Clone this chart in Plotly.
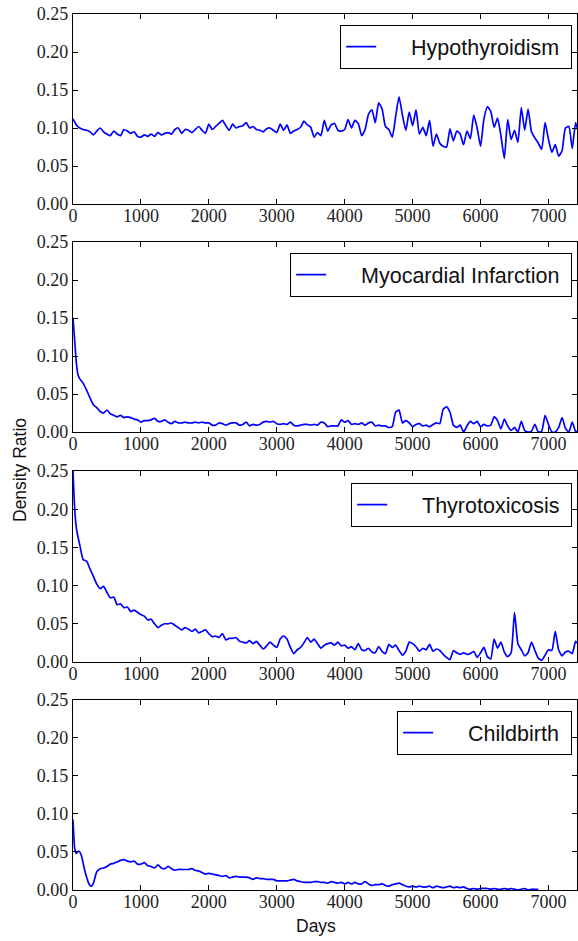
import plotly.graph_objects as go

# ---------------- data ----------------
step_days = list(range(0, 7500, 50))

hypo_days = step_days
hypo_vals = [
    0.112, 0.104, 0.100, 0.098, 0.097, 0.095, 0.091, 0.096, 0.100, 0.095,
    0.092, 0.090, 0.096, 0.092, 0.090, 0.098, 0.096, 0.093, 0.095, 0.089,
    0.088, 0.091, 0.089, 0.092, 0.089, 0.094, 0.091, 0.093, 0.094, 0.092,
    0.098, 0.100, 0.093, 0.098, 0.097, 0.094, 0.098, 0.102, 0.097, 0.093,
    0.105, 0.098, 0.102, 0.106, 0.110, 0.103, 0.097, 0.105, 0.100, 0.102,
    0.103, 0.107, 0.100, 0.102, 0.098, 0.097, 0.095, 0.099, 0.100, 0.097,
    0.094, 0.105, 0.097, 0.104, 0.093, 0.096, 0.098, 0.101, 0.109, 0.104,
    0.101, 0.088, 0.094, 0.090, 0.110, 0.096, 0.104, 0.106, 0.097, 0.096,
    0.098, 0.111, 0.100, 0.110, 0.106, 0.090, 0.098, 0.118, 0.124, 0.107,
    0.133, 0.125, 0.102, 0.098, 0.088, 0.115, 0.141, 0.117, 0.097, 0.121,
    0.103, 0.124, 0.092, 0.101, 0.090, 0.110, 0.076, 0.092, 0.080, 0.076,
    0.075, 0.099, 0.083, 0.096, 0.092, 0.078, 0.096, 0.086, 0.117, 0.100,
    0.076, 0.112, 0.128, 0.122, 0.101, 0.113, 0.090, 0.060, 0.111, 0.085,
    0.097, 0.081, 0.127, 0.097, 0.125, 0.095, 0.087, 0.080, 0.072, 0.107,
    0.085, 0.068, 0.078, 0.063, 0.070, 0.100, 0.102, 0.073, 0.107, 0.090,
]

mi_days = [0, 25, 50, 75] + list(range(100, 7500, 50))
mi_vals = [
    0.150, 0.120, 0.090, 0.075,
    0.070, 0.064, 0.055, 0.045, 0.036, 0.032, 0.027, 0.025, 0.029, 0.024,
    0.022, 0.020, 0.022, 0.019, 0.020, 0.019, 0.017, 0.016, 0.013, 0.015,
    0.015, 0.016, 0.018, 0.014, 0.014, 0.016, 0.013, 0.011, 0.014, 0.012,
    0.012, 0.013, 0.012, 0.012, 0.013, 0.012, 0.013, 0.012, 0.012, 0.009,
    0.009, 0.012, 0.011, 0.009, 0.011, 0.012, 0.012, 0.009, 0.010, 0.013,
    0.008, 0.010, 0.009, 0.010, 0.013, 0.014, 0.013, 0.014, 0.011, 0.010,
    0.011, 0.010, 0.013, 0.009, 0.008, 0.009, 0.010, 0.010, 0.009, 0.010,
    0.009, 0.013, 0.012, 0.007, 0.008, 0.008, 0.008, 0.016, 0.013, 0.015,
    0.010, 0.011, 0.010, 0.012, 0.009, 0.012, 0.013, 0.008, 0.009, 0.008,
    0.008, 0.006, 0.007, 0.026, 0.029, 0.012, 0.015, 0.012, 0.007, 0.010,
    0.011, 0.008, 0.009, 0.007, 0.010, 0.012, 0.011, 0.030, 0.033, 0.026,
    0.009, 0.006, 0.009, 0.000, 0.008, 0.014, 0.011, 0.014, 0.007, 0.010,
    0.008, 0.009, 0.020, 0.015, 0.004, 0.017, 0.008, 0.002, 0.006, 0.000,
    0.014, 0.002, 0.000, 0.001, 0.010, 0.000, 0.001, 0.022, 0.010, 0.000,
    0.000, 0.006, 0.019, 0.005, 0.000, 0.013, 0.001, 0.000,
]

thyro_days = [0, 25, 50] + list(range(100, 7500, 50))
thyro_vals = [
    0.250, 0.200, 0.175,
    0.153, 0.134, 0.132, 0.122, 0.112, 0.102, 0.096, 0.099, 0.091, 0.084,
    0.085, 0.075, 0.076, 0.071, 0.072, 0.066, 0.068, 0.065, 0.062, 0.060,
    0.055, 0.056, 0.050, 0.045, 0.048, 0.050, 0.050, 0.051, 0.048, 0.045,
    0.042, 0.045, 0.043, 0.040, 0.043, 0.038, 0.040, 0.042, 0.037, 0.033,
    0.034, 0.032, 0.037, 0.029, 0.031, 0.031, 0.032, 0.027, 0.026, 0.025,
    0.028, 0.024, 0.027, 0.022, 0.017, 0.021, 0.026, 0.022, 0.019, 0.030,
    0.034, 0.030, 0.019, 0.011, 0.016, 0.019, 0.025, 0.032, 0.026, 0.030,
    0.024, 0.018, 0.022, 0.024, 0.025, 0.022, 0.026, 0.021, 0.022, 0.018,
    0.020, 0.016, 0.024, 0.016, 0.015, 0.018, 0.013, 0.012, 0.020, 0.014,
    0.011, 0.023, 0.019, 0.022, 0.015, 0.009, 0.014, 0.026, 0.024, 0.020,
    0.014, 0.018, 0.016, 0.023, 0.014, 0.017, 0.015, 0.010, 0.006, 0.003,
    0.015, 0.012, 0.010, 0.012, 0.010, 0.011, 0.014, 0.006, 0.012, 0.019,
    0.007, 0.004, 0.030, 0.018, 0.026, 0.013, 0.007, 0.012, 0.065, 0.024,
    0.016, 0.008, 0.012, 0.026, 0.015, 0.005, 0.002, 0.009, 0.016, 0.015,
    0.040, 0.016, 0.008, 0.013, 0.014, 0.011, 0.027, 0.022,
]

birth_days = [0, 25, 50, 75, 100, 125, 150, 175, 200, 225, 250, 275, 300] + list(range(350, 6900, 50))
birth_vals = [
    0.093, 0.055, 0.048, 0.051, 0.050, 0.045, 0.035, 0.025, 0.017, 0.010,
    0.006, 0.005, 0.009,
    0.024, 0.028, 0.029, 0.031, 0.034, 0.035, 0.037, 0.039, 0.040, 0.038,
    0.037, 0.038, 0.034, 0.034, 0.036, 0.032, 0.031, 0.029, 0.033, 0.029,
    0.028, 0.031, 0.028, 0.026, 0.027, 0.027, 0.027, 0.027, 0.028, 0.026,
    0.025, 0.023, 0.021, 0.022, 0.021, 0.020, 0.019, 0.018, 0.019, 0.016,
    0.017, 0.018, 0.017, 0.017, 0.017, 0.016, 0.014, 0.016, 0.015, 0.015,
    0.014, 0.014, 0.014, 0.012, 0.012, 0.012, 0.012, 0.013, 0.014, 0.012,
    0.011, 0.010, 0.010, 0.010, 0.011, 0.011, 0.010, 0.010, 0.009, 0.011,
    0.010, 0.009, 0.010, 0.008, 0.010, 0.008, 0.010, 0.008, 0.008, 0.011,
    0.008, 0.006, 0.007, 0.007, 0.008, 0.006, 0.005, 0.007, 0.008, 0.009,
    0.007, 0.005, 0.004, 0.005, 0.004, 0.005, 0.004, 0.004, 0.005, 0.003,
    0.005, 0.004, 0.003, 0.004, 0.005, 0.003, 0.004, 0.003, 0.004, 0.002,
    0.001, 0.002, 0.001, 0.002, 0.002, 0.002, 0.001, 0.002, 0.001, 0.001,
    0.002, 0.001, 0.002, 0.001, 0.000, 0.001, 0.002, 0.000, 0.001, 0.001,
    0.001,
]

series = [
    ("Hypothyroidism", hypo_days, hypo_vals),
    ("Myocardial Infarction", mi_days, mi_vals),
    ("Thyrotoxicosis", thyro_days, thyro_vals),
    ("Childbirth", birth_days, birth_vals),
]

x_ticks = [0, 1000, 2000, 3000, 4000, 5000, 6000, 7000]
y_ticks = [0.00, 0.05, 0.10, 0.15, 0.20, 0.25]
x_title = "Days"
y_title = "Density Ratio"

# ---------------- layout geometry ----------------
W, H = 578, 941
ML, MR, MT, MB = 73, 1, 14, 51
domains = [[0.7831, 1.0], [0.5228, 0.7397], [0.2603, 0.4783], [0.0, 0.2169]]
legend_tops = [0.9874, 0.7272, 0.4646, 0.2043]

serif = "Liberation Serif, Times New Roman, serif"
sans = "Liberation Sans, Arial, sans-serif"
NB = "\u00a0"

fig = go.Figure()
layout = dict(
    width=W, height=H,
    margin=dict(l=ML, r=MR, t=MT, b=MB, pad=0),
    paper_bgcolor="white", plot_bgcolor="white",
    showlegend=True,
)

for i, (name, xs, ys) in enumerate(series):
    n = i + 1
    xa = "x" if n == 1 else f"x{n}"
    ya = "y" if n == 1 else f"y{n}"
    lg = "legend" if n == 1 else f"legend{n}"
    fig.add_trace(go.Scatter(
        x=xs, y=ys, mode="lines", name=NB * 5 + name + NB,
        xaxis=xa, yaxis=ya, legend=lg,
        line=dict(color="#0000ff", width=1.7, shape="spline", smoothing=0.5),
    ))
    axis_common = dict(
        showline=True, linecolor="black", linewidth=1.2, mirror="allticks",
        ticks="inside", ticklen=5, tickwidth=1, tickcolor="black",
        showgrid=False, zeroline=False,
        tickfont=dict(family=serif, size=18, color="#222"),
    )
    layout["xaxis" if n == 1 else f"xaxis{n}"] = dict(
        axis_common, domain=[0, 1], range=[0, 7420],
        tickvals=x_ticks, ticktext=[str(v) for v in x_ticks],
        anchor=ya, ticklabelstandoff=-5,
    )
    layout["yaxis" if n == 1 else f"yaxis{n}"] = dict(
        axis_common, domain=domains[i], range=[0, 0.25],
        tickvals=y_ticks, ticktext=[f"{v:.2f}" for v in y_ticks],
        anchor=xa,
    )
    layout[lg] = dict(
        x=0.990, xanchor="right", xref="paper",
        y=legend_tops[i], yanchor="top", yref="paper",
        bgcolor="white", bordercolor="black", borderwidth=1.2,
        font=dict(family=sans, size=21.5, color="#111"),
    )

layout["annotations"] = [
    dict(text=x_title, xref="paper", yref="paper",
         x=(316 - ML) / (W - ML - MR), y=-(926 - (H - MB)) / (H - MT - MB),
         xanchor="center", yanchor="middle", showarrow=False,
         font=dict(family=sans, size=17.5, color="#111")),
    dict(text=y_title, xref="paper", yref="paper",
         x=(20 - ML) / (W - ML - MR), y=((H - MB) - 470) / (H - MT - MB),
         xanchor="center", yanchor="middle", showarrow=False, textangle=-90,
         font=dict(family=sans, size=17.5, color="#111")),
]

fig.update_layout(**layout)
fig.write_html(
    "out.html",
    config={"displayModeBar": False},
    post_script="document.body.style.margin='0';document.body.style.padding='0';document.body.style.overflow='hidden';",
)
